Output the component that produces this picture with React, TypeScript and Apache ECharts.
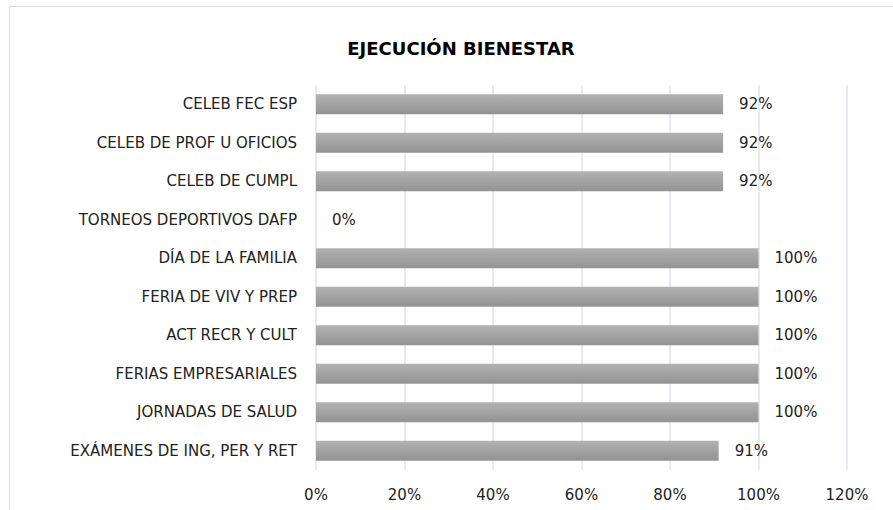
import React, { useEffect, useRef } from "react";
import * as echarts from "echarts";

const categories = [
  "EXÁMENES DE ING, PER Y RET",
  "JORNADAS DE SALUD",
  "FERIAS EMPRESARIALES",
  "ACT RECR Y CULT",
  "FERIA DE VIV Y PREP",
  "DÍA DE LA FAMILIA",
  "TORNEOS DEPORTIVOS DAFP",
  "CELEB DE CUMPL",
  "CELEB DE PROF U OFICIOS",
  "CELEB FEC ESP",
];
const values = [0.91, 1.0, 1.0, 1.0, 1.0, 1.0, 0, 0.92, 0.92, 0.92];
const titleText = "EJECUCIÓN BIENESTAR";

const FONT = "DejaVu Sans";

export default function App() {
  const ref = useRef<HTMLDivElement>(null);
  useEffect(() => {
    if (!ref.current) return;
    const chart = echarts.init(ref.current, null, { renderer: "svg" });
    chart.setOption({
      animation: false,
      backgroundColor: "#ffffff",
      graphic: [
        {
          type: "rect",
          shape: { x: 9.5, y: 6.5, width: 900, height: 600 },
          style: { fill: "none", stroke: "#d9d9d9", lineWidth: 1 },
          silent: true,
        },
      ],
      title: {
        text: titleText,
        left: 456,
        textAlign: "center",
        top: 34,
        textStyle: { fontFamily: FONT, fontSize: 18, fontWeight: "bold", color: "#000" },
      },
      grid: { left: 316, right: 46, top: 85, bottom: 40, containLabel: false },
      xAxis: {
        type: "value",
        min: 0,
        max: 1.2,
        interval: 0.2,
        axisLine: { show: false },
        axisTick: { show: false },
        splitLine: { show: true, lineStyle: { color: "#dfe3ea", width: 1.5 } },
        axisLabel: {
          margin: 17,
          fontFamily: FONT,
          fontSize: 15,
          color: "#222",
          formatter: (v: number) => Math.round(v * 100) + "%",
        },
      },
      yAxis: {
        type: "category",
        data: categories,
        axisLine: { show: false },
        axisTick: { show: false },
        axisLabel: { margin: 19, fontFamily: FONT, fontSize: 15, color: "#222" },
      },
      series: [
        {
          type: "bar",
          data: values,
          barWidth: 20,
          itemStyle: {
            color: new echarts.graphic.LinearGradient(0, 0, 0, 1, [
              { offset: 0, color: "#b2b2b2" },
              { offset: 1, color: "#939393" },
            ]),
          },
          label: {
            show: true,
            position: "right",
            distance: 16,
            fontFamily: FONT,
            fontSize: 15,
            color: "#222",
            formatter: (p: any) => Math.round(p.value * 100) + "%",
          },
        },
      ],
    });
    return () => chart.dispose();
  }, []);
  return (
    <div
      ref={ref}
      style={{ position: "fixed", left: 0, top: 0, width: 893, height: 510 }}
    />
  );
}
